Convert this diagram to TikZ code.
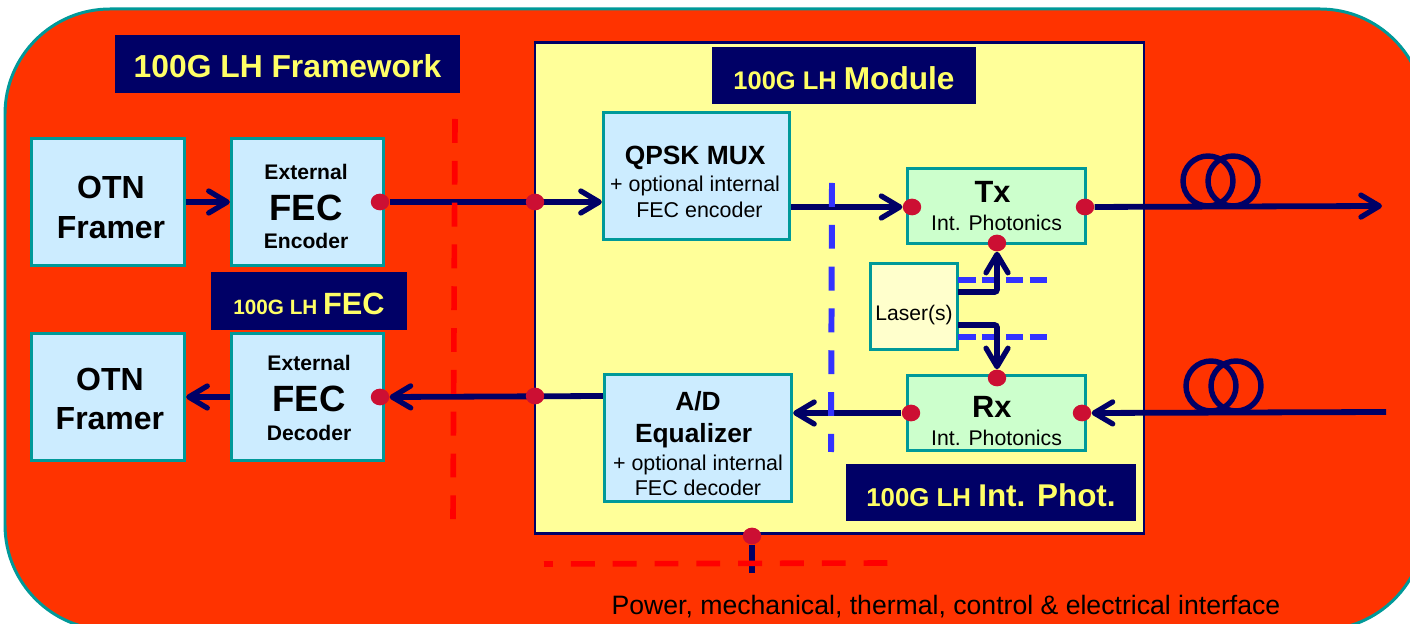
\documentclass[tikz,border=0pt]{standalone}
\usepackage{fontspec}
\setmainfont{Liberation Sans}
\usetikzlibrary{arrows.meta, shapes.geometric}
\definecolor{bgred}{HTML}{FF3300}
\definecolor{rimteal}{HTML}{009999}
\definecolor{navy}{HTML}{000066}
\definecolor{boxblue}{HTML}{CCECFF}
\definecolor{modyellow}{HTML}{FFFF99}
\definecolor{boxgreen}{HTML}{CCFFCC}
\definecolor{laserfill}{HTML}{FFFFCC}
\definecolor{dotred}{HTML}{CC0F33}
\definecolor{dashblue}{HTML}{3333FF}
\definecolor{titleyellow}{HTML}{FFFF66}
\pgfdeclarelayer{top}
\pgfsetlayers{main,top}
\tikzset{
  wh/.style 2 args={minimum width=#1*0.5669pt, minimum height=#2*0.5669pt},
  block/.style={draw=rimteal, line width=1.7pt, inner sep=0pt},
  blocktext/.style={align=center, inner sep=0pt, text=black},
  titlebar/.style={fill=navy, inner sep=0pt, text=titleyellow, font=\bfseries, text height=16.4pt, text depth=0.8pt},
  port/.style={ellipse, fill=dotred, minimum width=10.5pt, minimum height=9.5pt, inner sep=0pt},
  link/.style={line width=3.3pt, navy, -{Straight Barb[length=10.5pt, width=12.5pt, line width=3pt, round]}},
  wire/.style={line width=3.3pt, navy},
  redcut/.style={red, line width=3.2pt, dash pattern=on 13.6pt off 10.2pt},
  bluecut/.style={dashblue, line width=3.4pt, dash pattern=on 13.6pt off 10.2pt},
  bluestub/.style={dashblue, line width=3.4pt, dash pattern=on 10pt off 3.6pt},
}
\begin{document}
\begin{tikzpicture}[x=0.02cm, y=-0.02cm]

    % page frame and clipped red panel:
    \useasboundingbox (0,0) rectangle (1410,624);
    \clip (0,0) rectangle (1410,624);
    \draw[rimteal, fill=bgred, line width=1.7pt, rounded corners=2.1cm] (5,9) rectangle (1425,630);

    % module panel:
    \node[draw=navy, fill=modyellow, line width=1.2pt, wh={612}{493}] (module) at (839.5,288) {};

    % titles:
    \node[titlebar, wh={347}{58}] (frameTitle) at (287.5,64) {\fontsize{18.1}{20}\selectfont 100G LH Framework};
    \node[titlebar, wh={266}{57}] (moduleTitle) at (844,75.5) {\fontsize{14.5}{16}\selectfont 100G LH \fontsize{18}{20}\selectfont Module};
    \node[titlebar, wh={196}{58}] (fecTitle) at (309,301) {\fontsize{11.8}{13}\selectfont 100G LH \fontsize{17.5}{20}\selectfont FEC};
    \node[titlebar, wh={292}{57}] (photTitle) at (991,492.5) {\fontsize{14.7}{16}\selectfont 100G LH \fontsize{17.9}{20}\selectfont Int. Phot.};

    % left column:
    \node[block, fill=boxblue, wh={154}{128}, label={[blocktext, font=\bfseries\fontsize{18.2}{22.5}\selectfont, xshift=1.7pt, yshift=-3.1pt]center:{OTN\\Framer}}] (framerA) at (108,202) {};
    \node[block, fill=boxblue, wh={153}{128}, label={[blocktext, font=\bfseries\fontsize{12}{14}\selectfont, xshift=-0.8pt, yshift=-2.5pt]center:{External\\[7.7pt]{\fontsize{20.8}{22}\selectfont FEC}\\[2.4pt]Encoder}}] (encoder) at (307.5,202) {};
    \node[block, fill=boxblue, wh={154}{128}, label={[blocktext, font=\bfseries\fontsize{18.2}{22.5}\selectfont, xshift=1.1pt, yshift=-1.1pt]center:{OTN\\Framer}}] (framerB) at (108,397) {};
    \node[block, fill=boxblue, wh={153}{128}, label={[blocktext, font=\bfseries\fontsize{12}{14}\selectfont, xshift=0.9pt, yshift=-0.5pt]center:{External\\[7.7pt]{\fontsize{20.8}{22}\selectfont FEC}\\[2.4pt]Decoder}}] (decoder) at (307.5,397) {};

    % inside the module:
    \node[block, fill=boxblue, wh={187}{128}, label={[blocktext, font=\fontsize{12.2}{14.7}\selectfont, xshift=-0.8pt, yshift=-3.5pt]center:{{\bfseries\fontsize{15}{18}\selectfont QPSK MUX}\\[0.5pt]+ optional internal\\\hspace*{5pt}FEC encoder}}] (mux) at (696.5,176) {};
    \node[block, fill=boxblue, wh={188}{128}, label={[blocktext, font=\fontsize{12.2}{14.7}\selectfont, yshift=-3.3pt]center:{{\bfseries\fontsize{15}{18}\selectfont A/D}\\[3.4pt]\hspace*{-5pt}{\bfseries\fontsize{15}{18}\selectfont Equalizer}\\[1.1pt]+ optional internal\\FEC decoder}}] (equalizer) at (698,438) {};
    \node[block, fill=boxgreen, wh={179}{76}, label={[blocktext, font=\fontsize{12.1}{14}\selectfont]center:{\hspace*{-4.5pt}{\bfseries\fontsize{17.5}{20}\selectfont Tx}\\[2.3pt]Int. Photonics}}] (tx) at (996.5,206) {};
    \node[block, fill=boxgreen, wh={179}{76}, label={[blocktext, font=\fontsize{12.1}{14}\selectfont, yshift=-4.5pt]center:{\hspace*{-5.4pt}{\bfseries\fontsize{17.5}{20}\selectfont Rx}\\[2.3pt]Int. Photonics}}] (rx) at (996.5,413) {};
    \node[block, fill=laserfill, wh={88}{87}, label={[blocktext, font=\fontsize{12}{14}\selectfont, yshift=-4.7pt]center:{Laser(s)}}] (laser) at (914,306.5) {};

    % free ends and cut lines:
    \coordinate (lineOut) at (1382,206);
    \coordinate (lineIn) at (1386,412);
    \coordinate (mechEnd) at (752,573);
    \coordinate (laserUp) at (958,292);
    \coordinate (laserDown) at (958,325);
    \coordinate (stubTxA) at (958,280);
    \coordinate (stubTxB) at (1047,280);
    \coordinate (stubRxA) at (958,337);
    \coordinate (stubRxB) at (1047,337);
    \coordinate (cutAtop) at (455,119);
    \coordinate (cutAend) at (453,520);
    \coordinate (cutBtop) at (832,183);
    \coordinate (cutBend) at (831,452);
    \coordinate (cutCstart) at (544,564);
    \coordinate (cutCend) at (889,563);

    % ports and red/blue cuts sit over the paths:
    \begin{pgfonlayer}{top}
    \draw[redcut] (cutAtop) -- (cutAend);
    \draw[redcut, dash phase=8.5pt] (cutCstart) -- (cutCend);
    \draw[bluecut] (cutBtop) -- (cutBend);
    \node[port] (encOut) at (380,202) {};
    \node[port] (muxIn) at (535,202) {};
    \node[port] (txIn) at (912,207) {};
    \node[port] (txOut) at (1085,207) {};
    \node[port] (txLaser) at (997,243) {};
    \node[port] (rxLaser) at (997,378) {};
    \node[port] (rxOut) at (911,413) {};
    \node[port] (rxIn) at (1082,413) {};
    \node[port] (decIn) at (380,397) {};
    \node[port] (eqOut) at (535,396) {};
    \node[port] (mech) at (752,536) {};
    \end{pgfonlayer}

    % laser dashes behind the feeds:
    \draw[bluestub] (stubTxA) -- (stubTxB);
    \draw[bluestub] (stubRxA) -- (stubRxB);

    % signal paths:
    \draw[link] (framerA.east) -- (encoder.west);
    \draw[link] (encOut) -- (mux.west |- encOut);
    \draw[link] (mux.east |- txIn) -- (txIn.west);
    \draw[link] (txOut) -- (lineOut);
    \draw[link] (lineIn) -- (rxIn.east);
    \draw[link] (rxOut) -- (equalizer.east |- rxOut);
    \draw[link] (equalizer.west |- eqOut) -- (decIn.east);
    \draw[link] (decoder.west) -- (framerB.east);
    \draw[link, rounded corners=1.5pt] (laserUp) -| (txLaser.south);
    \draw[link, rounded corners=1.5pt] (laserDown) -| (rxLaser.north);
    \draw[wire] (mech) -- (mechEnd);

    % fibre coils:
    \foreach \cx/\cy in {1208/181, 1233/181, 1211/386, 1236/386}
      \draw[navy, line width=3.1pt] (\cx,\cy) circle[radius=0.5cm];

    % bottom caption:
    \node[font=\fontsize{15.15}{17}\selectfont, text=black, inner sep=0pt] (caption) at (946,606.5) {Power, mechanical, thermal, control \& electrical interface};
%
\end{tikzpicture}
\end{document}
